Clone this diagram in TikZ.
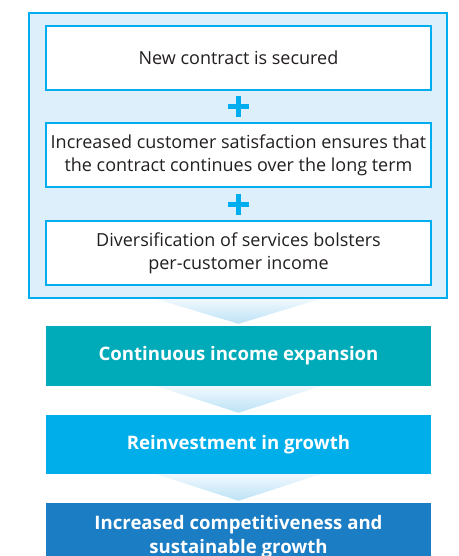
\documentclass[tikz,border=0pt]{standalone}
\usepackage{fontspec}
\setmainfont{Open Sans}
\usetikzlibrary{positioning, calc}
\definecolor{Ink}{HTML}{231F20}
\definecolor{Cyan}{HTML}{00AEEF}
\definecolor{Pale}{HTML}{DDEFFA}
\definecolor{Teal}{HTML}{00ABB9}
\definecolor{Sky}{HTML}{00AFEA}
\definecolor{Ocean}{HTML}{1B7DC4}
\definecolor{ArrowTop}{HTML}{F0F8FE}
\definecolor{ArrowBot}{HTML}{BCE2F6}
\tikzset{
    stepbox/.style={rectangle, draw=Cyan, line width=1.4pt, fill=white, text=Ink, align=center,
        minimum width=385pt, minimum height=64pt, font=\fontsize{18}{23}\selectfont},
    resultbox/.style={rectangle, fill=#1, text=white, align=center,
        minimum width=385pt, minimum height=60pt, font=\fontsize{18.6}{24}\selectfont\bfseries},
    plussign/.style={Cyan, line width=5pt},
}
% chevron between two stages
\newcommand{\flowarrow}[2]{%
    \shade[top color=ArrowTop, bottom color=ArrowBot]
        ($(#1.south)+(-82,0)$) -- ($(#1.south)+(82,0)$) -- ($(#2.north)+(0,-2)$) -- cycle;}
\newcommand{\plusmark}[1]{%
    \draw[plussign] ($(#1)+(-10.5,0)$) -- ($(#1)+(10.5,0)$);
    \draw[plussign] ($(#1)+(0,-10.5)$) -- ($(#1)+(0,10.5)$);}

\begin{document}
\begin{tikzpicture}[x=1pt, y=-1pt]
    \clip (0,0) rectangle (458,556);

    % Frame holding the three drivers
    \node[rectangle, draw=Cyan, line width=2pt, fill=Pale, minimum width=418pt, minimum height=285pt]
        (frame) at (238,155.5) {};

    \node[stepbox] (contract) at (238.5,58) {New contract is secured};
    \node[stepbox] (loyalty) at (238.5,155) {Increased customer satisfaction ensures that\\the contract continues over the long term};
    \node[stepbox] (services) at (238.5,253) {Diversification of services bolsters\\per-customer income};

    \coordinate (plusA) at ($(contract.south)!0.5!(loyalty.north)$);
    \coordinate (plusB) at ($(loyalty.south)!0.5!(services.north)$);
    \plusmark{plusA}
    \plusmark{plusB}

    % Outcomes
    \node[resultbox=Teal] (income) at (238.5,356) {Continuous income expansion};
    \node[resultbox=Sky, minimum height=59pt] (reinvest) at (238.5,444.5) {Reinvestment in growth};
    \node[resultbox=Ocean, minimum height=68pt] (growth) at (238.5,537) {Increased competitiveness and\\sustainable growth};

    \flowarrow{frame}{income}
    \flowarrow{income}{reinvest}
    \flowarrow{reinvest}{growth}
\end{tikzpicture}
\end{document}
